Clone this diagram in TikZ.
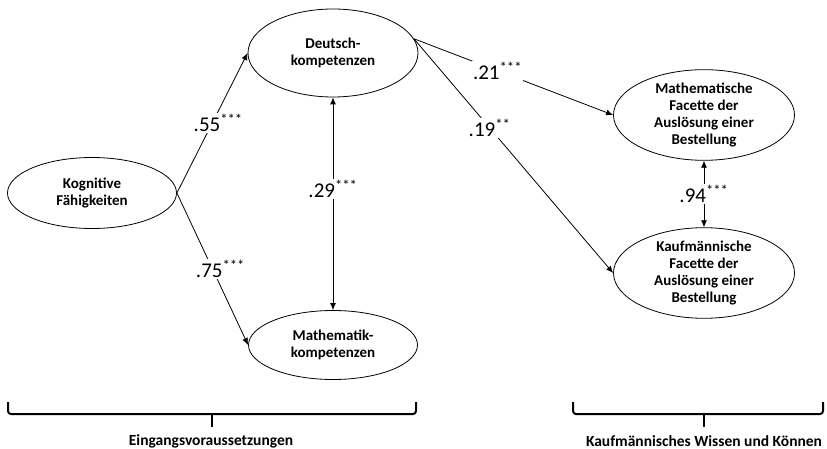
\documentclass[tikz,border=0pt]{standalone}
\usepackage{fontspec}
\setmainfont{Carlito}
\usetikzlibrary{arrows.meta,shapes.geometric}

\tikzset{
  latent/.style={draw,ellipse,line width=0.8pt,inner sep=0pt,align=center,
    font=\fontsize{15}{17}\selectfont\bfseries},
  effect/.style={line width=0.8pt,-{Latex[length=7pt,width=6pt]}},
  corr/.style={line width=0.8pt,{Latex[length=7pt,width=6pt]}-{Latex[length=7pt,width=6pt]}},
  coef/.style={fill=white,inner sep=1pt,font=\fontsize{21}{23}\selectfont},
  bracket/.style={line width=2pt,rounded corners=3pt},
  group/.style={font=\fontsize{15.5}{17}\selectfont\bfseries}
}
\newcommand{\sig}[2]{#1\textsuperscript{#2}}

\begin{document}
\begin{tikzpicture}[x=1pt,y=-1pt]
  \useasboundingbox (0,0) rectangle (827,449);
  % latente Variablen
  \node[latent,minimum width=169pt,minimum height=71pt] (kog) at (92,193) {Kognitive\\Fähigkeiten};
  \node[latent,minimum width=170pt,minimum height=88pt] (deu) at (333,53) {Deutsch-\\kompetenzen};
  \node[latent,minimum width=169pt,minimum height=69pt] (mat) at (333,345) {Mathematik-\\kompetenzen};
  \node[latent,minimum width=181pt,minimum height=87pt] (mfa) at (704,115) {Mathematische\\Facette der\\Auslösung einer\\Bestellung};
  \node[latent,minimum width=181pt,minimum height=87pt] (kfa) at (704,273) {Kaufmännische\\Facette der\\Auslösung einer\\Bestellung};
  % Pfade
  \draw[effect] (kog.east) -- node[coef,xshift=6pt] {\sig{.55}{***}} (deu.west);
  \draw[effect] (kog.east) -- node[coef,xshift=8pt] {\sig{.75}{***}} (mat.west);
  \draw[corr] (deu.south) -- node[coef,pos=0.43] {\sig{.29}{***}} (mat.north);
  \draw[effect] (deu.10) -- node[coef,pos=0.42] {\sig{.21}{***}} (mfa.west);
  \draw[effect] (deu.10) -- node[coef,pos=0.38] {\sig{.19}{**}} (kfa.west);
  \draw[corr] (mfa.south) -- node[coef] {\sig{.94}{***}} (kfa.north);
  % Klammern
  \coordinate (b1l) at (8,402);
  \coordinate (b1t) at (212,414);
  \coordinate (b1r) at (416,402);
  \coordinate (b2l) at (573,402);
  \coordinate (b2t) at (704,414);
  \coordinate (b2r) at (823,402);
  \draw[bracket] (b1l) |- (b1t) -| (b1r);
  \draw[bracket] (b1t) -- ++(0,13);
  \draw[bracket] (b2l) |- (b2t) -| (b2r);
  \draw[bracket] (b2t) -- ++(0,13);
  \node[group] (ein) at (211,441) {Eingangsvoraussetzungen};
  \node[group] (kwk) at (704,441) {Kaufmännisches Wissen und Können};
\end{tikzpicture}
\end{document}
